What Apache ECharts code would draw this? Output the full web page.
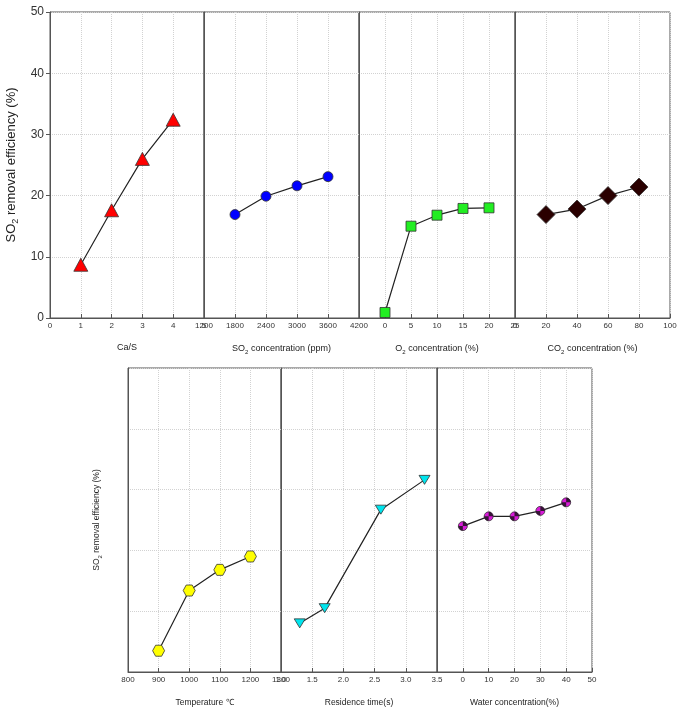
<!DOCTYPE html>
<html>
<head>
<meta charset="utf-8">
<script src="https://cdn.jsdelivr.net/npm/echarts@6/dist/echarts.min.js"></script>
<style>
  html, body { margin: 0; padding: 0; background: #fff; }
  #main { width: 679px; height: 707px; }
</style>
</head>
<body>
<div id="main"></div>
<script>
// values
const caS = [1, 2, 3, 4]
const caSEff = [8.7, 17.6, 26.0, 32.4]
const so2Conc = [1800, 2400, 3000, 3600]
const so2Eff = [16.9, 19.9, 21.6, 23.1]
const o2Conc = [0, 5, 10, 15, 20]
const o2Eff = [0.9, 15.0, 16.8, 17.9, 18.0]
const co2Conc = [20, 40, 60, 80]
const co2Eff = [16.9, 17.8, 20.0, 21.4]
const temps = [900, 1000, 1100, 1200]
const tempEff = [3.5, 13.4, 16.8, 19.0]
const resTime = [1.3, 1.7, 2.6, 3.3]
const resEff = [8.0, 10.5, 26.7, 31.6]
const water = [0, 10, 20, 30, 40]
const waterEff = [24.0, 25.6, 25.6, 26.5, 27.9]

// x axis ranges [min, max, interval]
const xRanges = [
  [0, 5, 1], [1200, 4200, 600], [-5, 25, 5], [0, 100, 20],
  [800, 1300, 100], [1.0, 3.5, 0.5], [-10, 50, 10]
]
const xNames = [
  'Ca/S', 'SO{sub|2} concentration (ppm)', 'O{sub|2} concentration (%)', 'CO{sub|2} concentration (%)',
  'Temperature ℃', 'Residence time(s)', 'Water concentration(%)'
]
const yRange = [0, 50, 10]

const font = 'Liberation Sans, Arial, sans-serif'
const hexagon = 'path://M0,5 L2.5,0.67 L7.5,0.67 L10,5 L7.5,9.33 L2.5,9.33 Z'
const quarters = 'path://M5,5 L5,0 A5,5 0 0,1 10,5 Z M5,5 L5,10 A5,5 0 0,1 0,5 Z'

const zip = (xs, ys) => xs.map((x, i) => [x, ys[i]])

var grids = [
  { left: 50, top: 12, width: 154, height: 306 },
  { left: 204, top: 12, width: 155, height: 306 },
  { left: 359, top: 12, width: 156, height: 306 },
  { left: 515, top: 12, width: 155, height: 306 },
  { left: 128, top: 368, width: 153, height: 304 },
  { left: 281, top: 368, width: 156, height: 304 },
  { left: 437, top: 368, width: 155, height: 304 }
].map(g => Object.assign(g, { show: true, borderColor: '#555', borderWidth: 1, outerBoundsMode: 'none' }))

var splitLine = { show: true, lineStyle: { color: '#d2d2d2', type: 'dotted', width: 1 } }
var subRich = { sub: { fontSize: 6, verticalAlign: 'bottom', padding: [6, 0, 0, 0], fontFamily: font, color: '#222' } }

var xAxes = xRanges.map((r, i) => ({
  type: 'value',
  gridIndex: i,
  min: r[0], max: r[1], interval: r[2],
  name: xNames[i],
  nameLocation: 'middle',
  nameGap: i < 4 ? 25 : 26,
  nameTextStyle: { fontFamily: font, fontSize: i < 4 ? 9 : 8.5, color: '#222', rich: subRich },
  axisLine: { show: true, onZero: false, lineStyle: { color: '#555' } },
  axisTick: { show: true, inside: true, length: 4, lineStyle: { color: '#555' } },
  axisLabel: {
    fontFamily: font, fontSize: 8, color: '#333', margin: 4,
    formatter: v => v < 0 ? '' : (i === 5 ? v.toFixed(1) : String(v))
  },
  splitLine: splitLine
}))

var yAxes = grids.map((g, i) => ({
  type: 'value',
  gridIndex: i,
  min: yRange[0], max: yRange[1], interval: yRange[2],
  name: i === 0 || i === 4 ? 'SO{sub|2} removal efficiency (%)' : '',
  nameLocation: 'middle',
  nameGap: i === 0 ? 30 : 25,
  nameTextStyle: {
    fontFamily: font, fontSize: i === 0 ? 13 : 8.5, color: '#222',
    rich: i === 0 ? { sub: { fontSize: 9, verticalAlign: 'bottom', padding: [8, 0, 0, 0], fontFamily: font, color: '#222' } } : subRich
  },
  axisLine: { show: true, onZero: false, lineStyle: { color: '#555' } },
  axisTick: { show: i === 0, inside: false, length: 4, lineStyle: { color: '#555' } },
  axisLabel: { show: i === 0, fontFamily: font, fontSize: 12, color: '#333', margin: 6 },
  splitLine: splitLine
}))

function lineSeries(idx, xs, ys, symbol, size, color, extra) {
  return Object.assign({
    type: 'line',
    xAxisIndex: idx, yAxisIndex: idx,
    data: zip(xs, ys),
    symbol: symbol,
    symbolSize: size,
    showAllSymbol: true,
    lineStyle: { color: '#222', width: 1.2 },
    itemStyle: { color: color, borderColor: '#333', borderWidth: 0.8 },
    z: 3
  }, extra || {})
}

var option = {
  animation: false,
  backgroundColor: '#fff',
  grid: grids,
  xAxis: xAxes,
  yAxis: yAxes,
  series: [
    lineSeries(0, caS, caSEff, 'triangle', [14, 13], '#ff0000'),
    lineSeries(1, so2Conc, so2Eff, 'circle', 10, '#0000ff'),
    lineSeries(2, o2Conc, o2Eff, 'rect', 10, '#22ee22'),
    lineSeries(3, co2Conc, co2Eff, 'diamond', [18, 18], '#2a0000'),
    lineSeries(4, temps, tempEff, hexagon, [12, 11], '#ffff00'),
    lineSeries(5, resTime, resEff, 'triangle', [11, 9], '#00e5ee', { symbolRotate: 180 }),
    lineSeries(6, water, waterEff, 'circle', 9, '#d81ad8'),
    {
      type: 'scatter',
      xAxisIndex: 6, yAxisIndex: 6,
      data: zip(water, waterEff),
      symbol: quarters,
      symbolSize: 9,
      itemStyle: { color: '#111' },
      z: 4
    }
  ]
}

var myChart = echarts.init(document.getElementById('main'), null, { renderer: 'canvas' })
myChart.setOption(option)
</script>
</body>
</html>
